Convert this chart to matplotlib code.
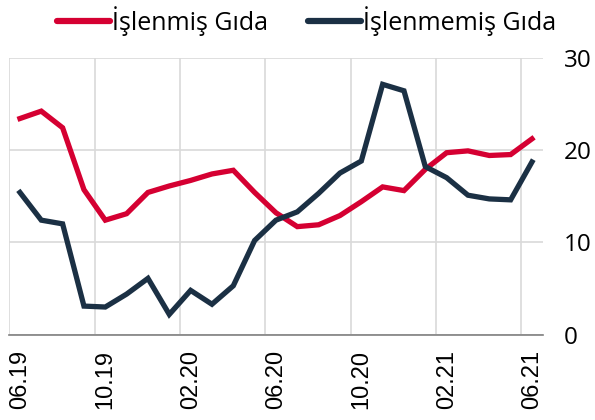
import matplotlib
matplotlib.use("Agg")
import matplotlib.pyplot as plt
import matplotlib.transforms as mtransforms
import numpy as np

months = ["06.19","07.19","08.19","09.19","10.19","11.19","12.19","01.20","02.20","03.20","04.20","05.20",
          "06.20","07.20","08.20","09.20","10.20","11.20","12.20","01.21","02.21","03.21","04.21","05.21","06.21"]
islenmis = [23.4, 24.2, 22.4, 15.7, 12.4, 13.1, 15.4, 16.1, 16.7, 17.4, 17.8, 15.4,
            13.2, 11.7, 11.9, 12.9, 14.4, 16.0, 15.6, 17.9, 19.7, 19.9, 19.4, 19.5, 21.2]
islenmemis = [15.4, 12.4, 12.0, 3.1, 3.0, 4.4, 6.1, 2.2, 4.8, 3.3, 5.3, 10.2,
              12.4, 13.3, 15.3, 17.5, 18.8, 27.1, 26.4, 18.2, 17.0, 15.1, 14.7, 14.6, 18.7]
tick_labels = months[::4]
yticks = [0, 10, 20, 30]

RED = "#D50032"
NAVY = "#1B3044"

fig = plt.figure(figsize=(5.95, 4.2), dpi=100)
ax = fig.add_axes([0.0156, 0.203, 0.8964, 0.66])

x = np.arange(len(months)) + 0.5
ax.plot(x, islenmis, color=RED, lw=3.8, solid_joinstyle="miter", label="İşlenmiş Gıda")
ax.plot(x, islenmemis, color=NAVY, lw=3.8, solid_joinstyle="miter", label="İşlenmemiş Gıda")

ax.set_xlim(0, len(months))
ax.set_ylim(0, 30)
ax.set_xticks(np.arange(0, len(months), 4))
ax.set_xticklabels(tick_labels, rotation=90, fontsize=17, family="Liberation Sans", ha="left")
offset = mtransforms.ScaledTranslation(-1 / 100, 0, fig.dpi_scale_trans)
for lab in ax.get_xticklabels():
    lab.set_transform(lab.get_transform() + offset)
ax.set_yticks(yticks)
ax.set_yticklabels([str(v) for v in yticks], fontsize=17.5, family="Open Sans")
ax.yaxis.tick_right()
ax.tick_params(axis="y", length=0, pad=15)
ax.tick_params(axis="x", length=0, pad=11)
ax.grid(True, color="#D9D9D9", lw=1.2)
ax.set_axisbelow(True)
for s in ["top", "right", "left"]:
    ax.spines[s].set_visible(False)
ax.spines["bottom"].set_color("#808080")
ax.spines["bottom"].set_linewidth(1.2)

leg = fig.legend(loc="upper center", bbox_to_anchor=(0.516, 1.04), ncol=2, frameon=False,
                 prop={"family": "Open Sans", "size": 18}, handlelength=2.1, handletextpad=0.1,
                 columnspacing=1.6)
for h in leg.get_lines():
    h.set_solid_capstyle("round")
    h.set_linewidth(4.5)

fig.savefig("out.png", dpi=100)
